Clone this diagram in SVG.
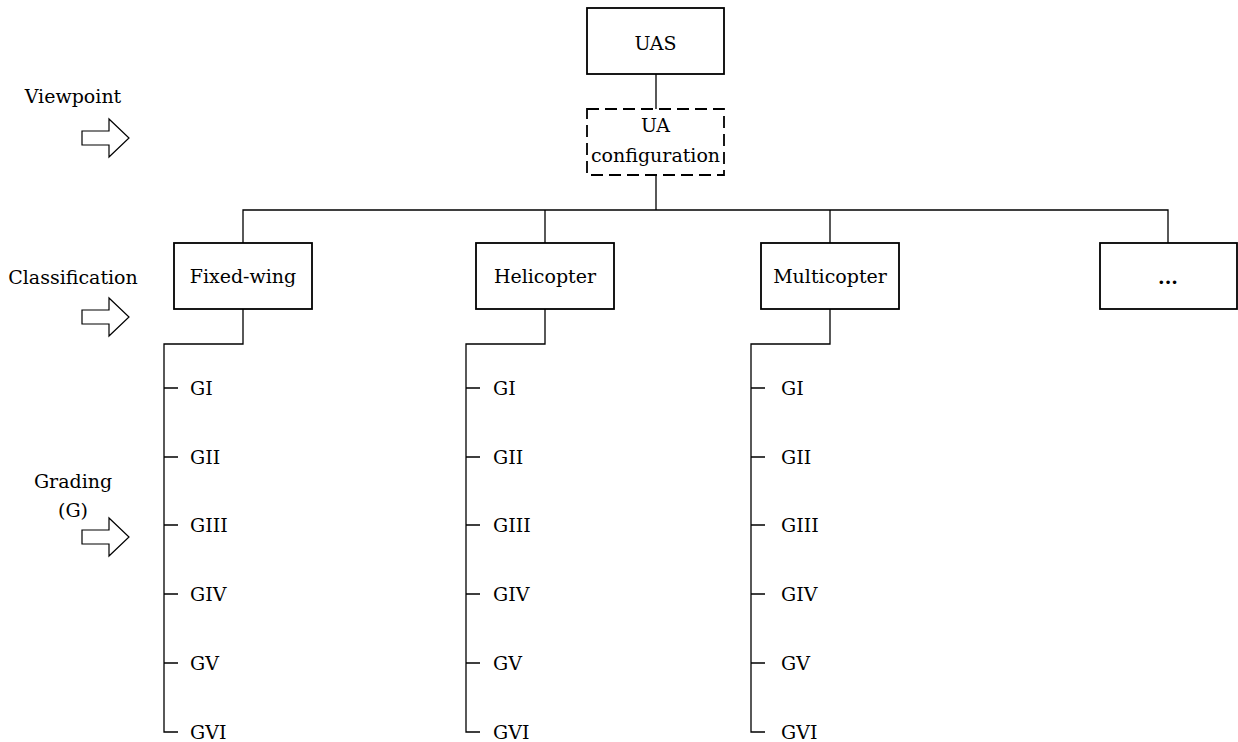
<svg xmlns="http://www.w3.org/2000/svg" width="1238" height="742" viewBox="0 0 1238 742">
<style>
text{font-family:"DejaVu Serif","Liberation Serif",serif;font-size:19px;fill:#000}
.c{text-anchor:middle}
.box{fill:#fff;stroke:#000;stroke-width:1.8}
.dash{fill:#fff;stroke:#000;stroke-width:1.8;stroke-dasharray:12 6}
.ln{fill:none;stroke:#000;stroke-width:1.3}
.arr{fill:#fff;stroke:#000;stroke-width:1.2}
</style>
<defs>
<path id="bigarrow" d="M82,-7 H109 V-19 L129,0 L109,19 V7 H82 Z"/>
</defs>
<rect width="1238" height="742" fill="#fff"/>
<g id="legend">
<text class="c" x="73" y="103">Viewpoint</text>
<use href="#bigarrow" class="arr" y="138"/>
<text class="c" x="73" y="284">Classification</text>
<use href="#bigarrow" class="arr" y="317"/>
<text class="c" x="73" y="488">Grading</text>
<text class="c" x="73" y="517">(G)</text>
<use href="#bigarrow" class="arr" y="537"/>
</g>
<g id="connectors">
<path class="ln" d="M656,74 V109 M656,175 V210 M243,243 V210 H1168 V243 M545,210 V243 M830,210 V243"/>
<path class="ln" d="M243,309 V344 H164 V732 H178 M164,388 H178 M164,457 H178 M164,525 H178 M164,594 H178 M164,663 H178"/>
<path class="ln" d="M545,309 V344 H466 V732 H480 M466,388 H480 M466,457 H480 M466,525 H480 M466,594 H480 M466,663 H480"/>
<path class="ln" d="M830,309 V344 H751 V732 H765 M751,388 H765 M751,457 H765 M751,525 H765 M751,594 H765 M751,663 H765"/>
</g>
<g id="uas"><rect class="box" x="587" y="8" width="137" height="66"/><text class="c" x="655.5" y="50">UAS</text></g>
<g id="ua-config"><rect class="dash" x="587" y="109" width="137" height="66"/><text class="c" x="655.5" y="132">UA</text><text class="c" x="655.5" y="162">configuration</text></g>
<g id="fixed-wing"><rect class="box" x="174" y="243" width="138" height="66"/><text class="c" x="243" y="283">Fixed-wing</text></g>
<g id="helicopter"><rect class="box" x="476" y="243" width="138" height="66"/><text class="c" x="545" y="283">Helicopter</text></g>
<g id="multicopter"><rect class="box" x="761" y="243" width="138" height="66"/><text class="c" x="830" y="283">Multicopter</text></g>
<g id="others"><rect class="box" x="1100" y="243" width="137" height="66"/><text class="c" x="1168" y="284" font-weight="bold">...</text></g>
<g id="grades-fixed-wing">
<text x="190" y="395">GI</text><text x="190" y="464">GII</text><text x="190" y="532">GIII</text><text x="190" y="601">GIV</text><text x="190" y="670">GV</text><text x="190" y="739">GVI</text>
</g>
<g id="grades-helicopter">
<text x="493" y="395">GI</text><text x="493" y="464">GII</text><text x="493" y="532">GIII</text><text x="493" y="601">GIV</text><text x="493" y="670">GV</text><text x="493" y="739">GVI</text>
</g>
<g id="grades-multicopter">
<text x="781" y="395">GI</text><text x="781" y="464">GII</text><text x="781" y="532">GIII</text><text x="781" y="601">GIV</text><text x="781" y="670">GV</text><text x="781" y="739">GVI</text>
</g>
</svg>
